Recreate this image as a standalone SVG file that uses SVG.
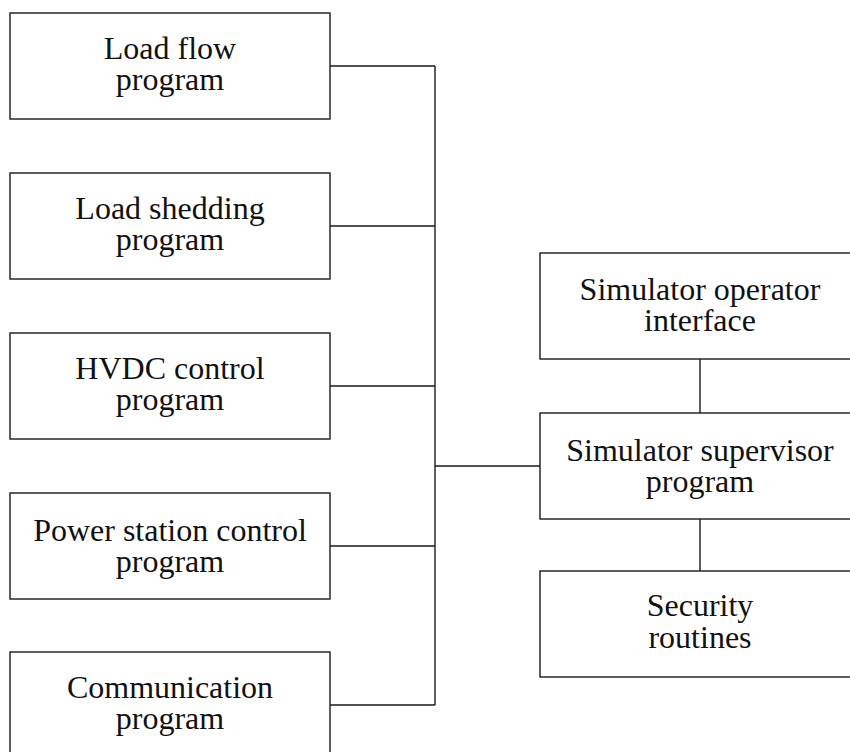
<svg xmlns="http://www.w3.org/2000/svg" width="850" height="752" viewBox="0 0 850 752">
  <style>
    .box { fill: #ffffff; stroke: #1a1a1a; stroke-width: 1.4; }
    .wire { fill: none; stroke: #1a1a1a; stroke-width: 1.4; }
    .label { font-family: "Liberation Serif", "Times New Roman", serif; font-size: 32px; fill: #111111; text-anchor: middle; }
  </style>
  <rect width="850" height="752" fill="#ffffff"/>

  <!-- connectors -->
  <g id="connectors">
    <path class="wire" d="M330,66 H435 M330,226 H435 M330,386 H435 M330,546 H435 M330,705 H435"/>
    <path class="wire" d="M435,66 V705"/>
    <path class="wire" d="M435,466 H540"/>
    <path class="wire" d="M700,359 V413 M700,519 V571"/>
  </g>

  <!-- program modules on the left -->
  <g id="load-flow">
    <rect class="box" x="10" y="13" width="320" height="106"/>
    <text class="label" x="170" y="59">Load flow</text>
    <text class="label" x="170" y="90">program</text>
  </g>
  <g id="load-shedding">
    <rect class="box" x="10" y="173" width="320" height="106"/>
    <text class="label" x="170" y="219">Load shedding</text>
    <text class="label" x="170" y="250">program</text>
  </g>
  <g id="hvdc-control">
    <rect class="box" x="10" y="333" width="320" height="106"/>
    <text class="label" x="170" y="379">HVDC control</text>
    <text class="label" x="170" y="410">program</text>
  </g>
  <g id="power-station-control">
    <rect class="box" x="10" y="493" width="320" height="106"/>
    <text class="label" x="170" y="541">Power station control</text>
    <text class="label" x="170" y="572">program</text>
  </g>
  <g id="communication">
    <rect class="box" x="10" y="652" width="320" height="106"/>
    <text class="label" x="170" y="698">Communication</text>
    <text class="label" x="170" y="729">program</text>
  </g>

  <!-- simulator modules on the right -->
  <g id="operator-interface">
    <rect class="box" x="540" y="253" width="320" height="106"/>
    <text class="label" x="700" y="300">Simulator operator</text>
    <text class="label" x="700" y="331">interface</text>
  </g>
  <g id="supervisor">
    <rect class="box" x="540" y="413" width="320" height="106"/>
    <text class="label" x="700" y="461">Simulator supervisor</text>
    <text class="label" x="700" y="492">program</text>
  </g>
  <g id="security-routines">
    <rect class="box" x="540" y="571" width="320" height="106"/>
    <text class="label" x="700" y="616">Security</text>
    <text class="label" x="700" y="648">routines</text>
  </g>
</svg>
